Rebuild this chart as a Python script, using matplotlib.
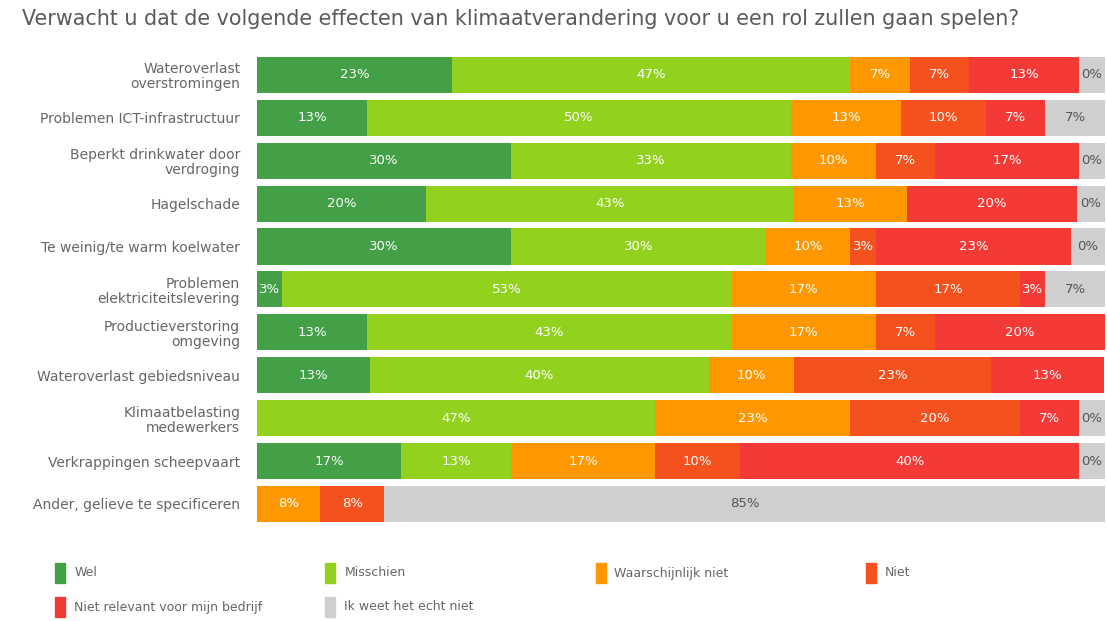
import matplotlib
matplotlib.use("Agg")
from matplotlib import pyplot as plt
from matplotlib.patches import Rectangle
import numpy as np

title = 'Verwacht u dat de volgende effecten van klimaatverandering voor u een rol zullen gaan spelen?'

categories = ['Wateroverlast\noverstromingen', 'Problemen ICT-infrastructuur',
              'Beperkt drinkwater door\nverdroging', 'Hagelschade',
              'Te weinig/te warm koelwater', 'Problemen\nelektriciteitslevering',
              'Productieverstoring\nomgeving', 'Wateroverlast gebiedsniveau',
              'Klimaatbelasting\nmedewerkers', 'Verkrappingen scheepvaart',
              'Ander, gelieve te specificeren']

series_names = ['Wel', 'Misschien', 'Waarschijnlijk niet', 'Niet',
                'Niet relevant voor mijn bedrijf', 'Ik weet het echt niet']

wel = [23, 13, 30, 20, 30, 3, 13, 13.3, 0, 17, 0]
misschien = [47, 50, 33, 43.4, 30, 53, 43, 40, 47, 13, 0]
waarschijnlijk_niet = [7, 13, 10, 13.3, 10, 17, 17, 10, 23, 17, 7.5]
niet = [7, 10, 7, 0, 3, 17, 7, 23.3, 20, 10, 7.5]
niet_relevant = [13, 7, 17, 20, 23, 3, 20, 13.3, 7, 40, 0]
weet_niet = [3, 7, 3, 3.3, 4, 7, 0, 0, 3, 3, 85]
weet_niet_labels = ['0%', '7%', '0%', '0%', '0%', '7%', '', '', '0%', '0%', '85%']

colors = ['#43a047', '#92d21e', '#ff9800', '#f4511e', '#f43a36', '#cfcfcf']
text_colors = ['white', 'white', 'white', 'white', 'white', '#555555']

fig = plt.figure(figsize=(11.07, 6.21), dpi=100)
ax = fig.add_axes([0.232, 0.154, 0.766, 0.76])

data = [wel, misschien, waarschijnlijk_niet, niet, niet_relevant, weet_niet]
y = np.arange(len(categories))
left = np.zeros(len(categories))
for s, vals in enumerate(data):
    vals = np.array(vals, dtype=float)
    ax.barh(y, vals, left=left, height=0.84, color=colors[s], linewidth=0)
    for i, v in enumerate(vals):
        if s == 5:
            txt = weet_niet_labels[i]
        elif v > 0:
            txt = f'{v:.0f}%'
        else:
            txt = ''
        if txt:
            ax.text(left[i] + v / 2, y[i], txt, ha='center', va='center',
                    color=text_colors[s], fontsize=9.5)
    left += vals

ax.set_xlim(0, 100)
ax.set_ylim(len(categories) - 0.5, -0.5)
ax.set_yticks(y)
ax.set_yticklabels(categories, fontsize=10, color='#666666', linespacing=1.1)
ax.tick_params(axis='y', length=0, pad=12)
ax.set_xticks([])
for sp in ax.spines.values():
    sp.set_visible(False)

fig.text(0.02, 0.97, title, fontsize=14.9, color='#5a5a5a', ha='left', va='center')

# legend laid out in a 4-column grid
for i, name in enumerate(series_names):
    col = i % 4
    row = i // 4
    x0 = 0.05 + col * 0.244
    y0 = 1 - (573 + row * 34) / 621
    fig.patches.append(Rectangle((x0, y0 - 0.016), 0.009, 0.032, color=colors[i],
                                 transform=fig.transFigure, figure=fig))
    fig.text(x0 + 0.017, y0, name, fontsize=9, color='#666666', va='center', ha='left')

plt.savefig('out.png', dpi=100)
